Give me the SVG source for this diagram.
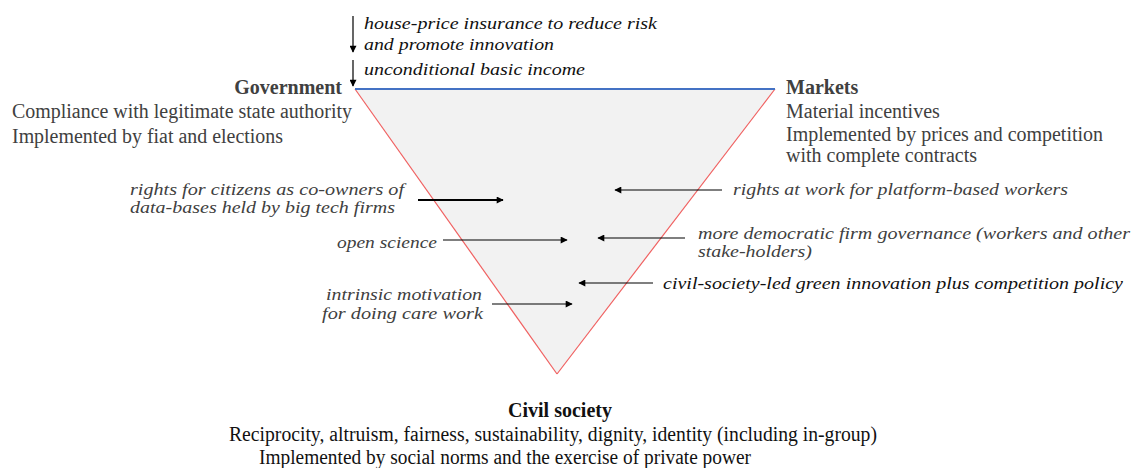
<svg xmlns="http://www.w3.org/2000/svg" width="1133" height="468" viewBox="0 0 1133 468">
<style>
text{font-family:"Liberation Serif","Times New Roman",serif;font-size:20px;}
.it{font-style:italic;font-size:17.5px;fill:#404040;}
.itb{font-style:italic;font-size:17.5px;fill:#111;}
.hd{font-weight:bold;fill:#404040;}
.hdb{font-weight:bold;fill:#111;}
.bd{fill:#404040;}
.bdb{fill:#111;}
.ar{stroke:#000;stroke-width:1.2;fill:none;}
.ar2{stroke:#000;stroke-width:2;fill:none;}
</style>
<defs>
<marker id="ah" viewBox="0 0 10 10" refX="9" refY="5" markerWidth="8" markerHeight="7" markerUnits="userSpaceOnUse" orient="auto"><path d="M0,0L10,5L0,10z" fill="#000"/></marker>
</defs>
<rect width="1133" height="468" fill="#fff"/>
<g id="triangle">
<polygon points="355,89 775,89 557,374" fill="#f2f2f2" stroke="none"/>
<line x1="355" y1="89" x2="557" y2="374" stroke="#f06060" stroke-width="1.2"/>
<line x1="775" y1="89" x2="557" y2="374" stroke="#f06060" stroke-width="1.2"/>
<line x1="355" y1="89" x2="775" y2="89" stroke="#4472c4" stroke-width="2"/>
</g>
<g id="government">
<text class="hd" x="342" y="94" text-anchor="end">Government</text>
<text class="bd" x="12" y="118" textLength="340" lengthAdjust="spacingAndGlyphs">Compliance with legitimate state authority</text>
<text class="bd" x="12" y="143" textLength="271" lengthAdjust="spacingAndGlyphs">Implemented by fiat and elections</text>
</g>
<g id="markets">
<text class="hd" x="786" y="94">Markets</text>
<text class="bd" x="786" y="118">Material incentives</text>
<text class="bd" x="786" y="141" textLength="317" lengthAdjust="spacingAndGlyphs">Implemented by prices and competition</text>
<text class="bd" x="786" y="162" textLength="191" lengthAdjust="spacingAndGlyphs">with complete contracts</text>
</g>
<g id="civil-society">
<text class="hdb" x="560" y="417" text-anchor="middle">Civil society</text>
<text class="bdb" x="229" y="441" textLength="648" lengthAdjust="spacingAndGlyphs">Reciprocity, altruism, fairness, sustainability, dignity, identity (including in-group)</text>
<text class="bdb" x="259" y="464" textLength="492" lengthAdjust="spacingAndGlyphs">Implemented by social norms and the exercise of private power</text>
</g>
<g id="house-price">
<text class="itb" x="364" y="29" textLength="293" lengthAdjust="spacingAndGlyphs">house-price insurance to reduce risk</text>
<text class="itb" x="364" y="50" textLength="190" lengthAdjust="spacingAndGlyphs">and promote innovation</text>
</g>
<g id="ubi">
<text class="itb" x="364" y="75" textLength="221" lengthAdjust="spacingAndGlyphs">unconditional basic income</text>
</g>
<g id="rights-citizens">
<text class="it" x="130" y="195" textLength="274" lengthAdjust="spacingAndGlyphs">rights for citizens as co-owners of</text>
<text class="it" x="130" y="213" textLength="265" lengthAdjust="spacingAndGlyphs">data-bases held by big tech firms</text>
</g>
<g id="open-science">
<text class="it" x="337" y="248" textLength="100" lengthAdjust="spacingAndGlyphs">open science</text>
</g>
<g id="intrinsic">
<text class="it" x="326" y="300" textLength="156" lengthAdjust="spacingAndGlyphs">intrinsic motivation</text>
<text class="it" x="322" y="319" textLength="161" lengthAdjust="spacingAndGlyphs">for doing care work</text>
</g>
<g id="rights-work">
<text class="it" x="733" y="195" textLength="335" lengthAdjust="spacingAndGlyphs">rights at work for platform-based workers</text>
</g>
<g id="democratic">
<text class="it" x="698" y="239" textLength="432" lengthAdjust="spacingAndGlyphs">more democratic firm governance (workers and other</text>
<text class="it" x="698" y="257" textLength="114" lengthAdjust="spacingAndGlyphs">stake-holders)</text>
</g>
<g id="green">
<text class="itb" x="663" y="289" textLength="460" lengthAdjust="spacingAndGlyphs">civil-society-led green innovation plus competition policy</text>
</g>
<g id="connectors">
<line class="ar" x1="353" y1="16" x2="353" y2="52" marker-end="url(#ah)"/>
<line class="ar" x1="353" y1="60" x2="353" y2="86" marker-end="url(#ah)"/>
<line class="ar2" x1="418" y1="200" x2="503" y2="200" marker-end="url(#ah)"/>
<line class="ar" x1="443" y1="240" x2="567" y2="240" marker-end="url(#ah)"/>
<line class="ar" x1="492" y1="304" x2="572" y2="304" marker-end="url(#ah)"/>
<line class="ar" x1="722" y1="190" x2="615" y2="190" marker-end="url(#ah)"/>
<line class="ar" x1="685" y1="238" x2="598" y2="238" marker-end="url(#ah)"/>
<line class="ar" x1="653" y1="283" x2="579" y2="283" marker-end="url(#ah)"/>
</g>
</svg>
